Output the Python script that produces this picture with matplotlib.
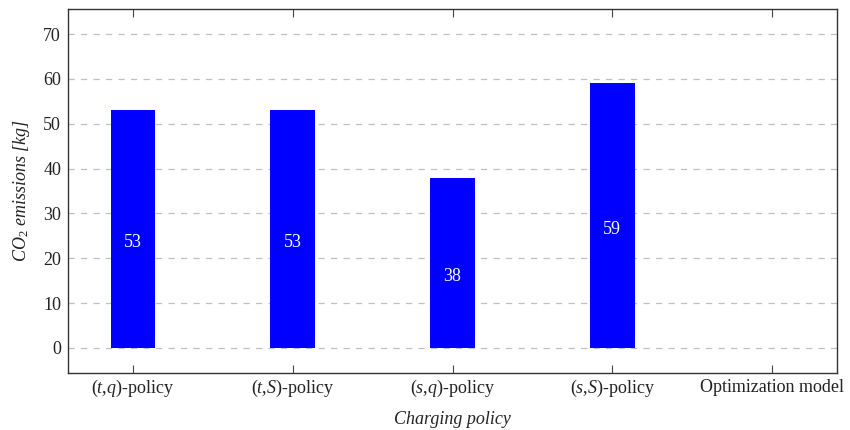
import matplotlib
matplotlib.use("Agg")
import matplotlib.pyplot as plt
import numpy as np

categories = [r"$(t{,}q)$-policy", r"$(t{,}S)$-policy", r"$(s{,}q)$-policy",
              r"$(s{,}S)$-policy", "Optimization model"]
values = [53, 53, 38, 59, np.nan]
yticks = [0, 10, 20, 30, 40, 50, 60, 70]

plt.rcParams['font.family'] = ['Liberation Serif', 'DejaVu Serif']
plt.rcParams['mathtext.fontset'] = 'custom'
plt.rcParams['mathtext.rm'] = 'Liberation Serif'
plt.rcParams['mathtext.it'] = 'Liberation Serif:italic'
plt.rcParams['mathtext.bf'] = 'Liberation Serif:bold'

fig = plt.figure(figsize=(8.5, 4.3), dpi=100)
ax = fig.add_axes([68/850, 1-373/430, (837-68)/850, (373-9)/430])

x = np.arange(len(categories))
vals = np.array(values, dtype=float)
ax.bar(x, vals, width=0.28, color='#0000ff', zorder=3)
for xi, v in zip(x, vals):
    if not np.isnan(v):
        ax.annotate(f"{int(v)}", (xi, v/2), xytext=(0, -10), textcoords='offset points',
                    ha='center', va='center', color='white', fontsize=13, zorder=4)

ax.set_xlim(-0.406, 4.406)
ax.set_ylim(-5.6, 75.6)
ax.set_xticks(x)
ax.set_xticklabels(categories, fontsize=13, color='#222222', va='baseline')
ax.set_yticks(yticks)
ax.set_yticklabels([str(t) for t in yticks], fontsize=13, color='#222222')
ax.tick_params(axis='x', direction='in', top=True, bottom=True, length=6, width=0.8,
               color='#444444', pad=14)
ax.tick_params(axis='y', length=0, pad=5)
ax.yaxis.grid(True, linestyle=(0, (5, 5)), color='#c0c0c0', linewidth=0.9, zorder=0)
ax.set_axisbelow(True)
for s in ax.spines.values():
    s.set_color('#333333')
    s.set_linewidth(1.0)

ax.set_xlabel("Charging policy", fontstyle='italic', fontsize=13, labelpad=9, color='#222222')
ax.set_ylabel(r"$CO_2$ emissions [kg]", fontstyle='italic', fontsize=13, labelpad=8, color='#222222')

fig.savefig("out.png", dpi=100)
